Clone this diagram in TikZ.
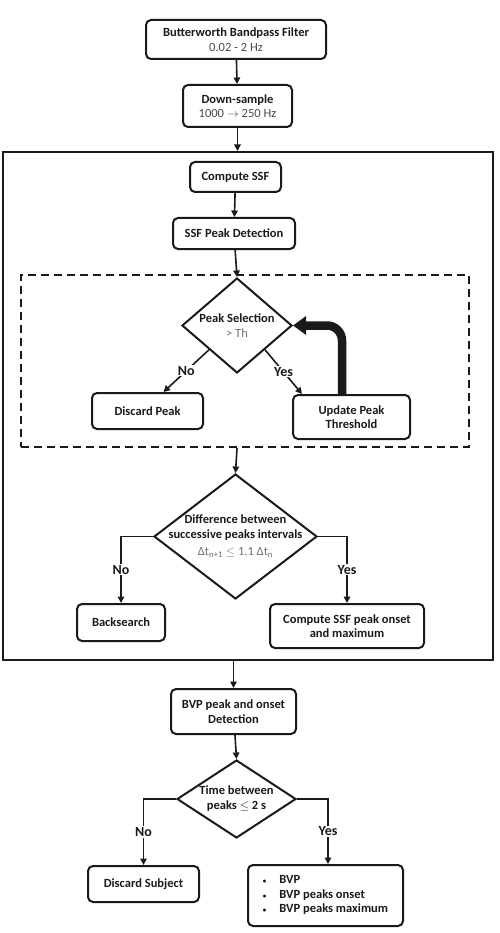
\documentclass[tikz,border=0pt]{standalone}
\usepackage{fontspec}
\setmainfont{Carlito}
\usetikzlibrary{shapes.geometric,arrows.meta}
\definecolor{ink}{HTML}{1A1A1A}
\definecolor{subt}{HTML}{4A4A4A}
\definecolor{grey}{HTML}{707070}
\begin{document}
\begin{tikzpicture}[x=1pt,y=-1pt,
    blk/.style={draw=ink,line width=2pt,rounded corners=5pt,align=center,
      font=\fontsize{12.5}{14.5}\selectfont\bfseries,text=ink,inner sep=2pt},
    dia/.style={draw=ink,line width=2pt,diamond,inner sep=0pt},
    dtxt/.style={align=center,font=\fontsize{12.5}{15}\selectfont\bfseries,text=ink},
    frm/.style={draw=ink,line width=2pt,inner sep=0pt},
    arr/.style={draw=ink,line width=1.6pt,-{Triangle[length=6.5pt,width=6.5pt]}},
    lbl/.style={fill=white,font=\fontsize{14}{14}\selectfont\bfseries,text=ink,inner sep=1pt}]
  \useasboundingbox (0,0) rectangle (499,933);
  \node[frm,minimum width=490pt,minimum height=508pt] (outer) at (248,406) {};
  \node[frm,dashed,dash pattern=on 8pt off 5pt,minimum width=448pt,minimum height=172pt] (sel) at (245,361) {};
  \node[blk,minimum width=180pt,minimum height=39pt] (bw) at (236,39.5)
    {Butterworth Bandpass Filter\\{\mdseries\color{subt}0.02 - 2 Hz}};
  \node[blk,minimum width=109pt,minimum height=42pt] (ds) at (237.5,106)
    {Down-sample\\{\mdseries\color{subt}1000 $\rightarrow$ 250 Hz}};
  \node[blk,minimum width=91pt,minimum height=30pt] (ssf) at (235.5,177) {Compute SSF};
  \node[blk,minimum width=122pt,minimum height=31pt] (pk) at (234,233.5) {SSF Peak Detection};
  \node[dia,minimum width=110pt,minimum height=95pt,
    label={[dtxt]center:Peak Selection\\{\mdseries\color{grey}> Th}}] (d1) at (237,325.5) {};
  \node[blk,minimum width=111pt,minimum height=36pt] (disc) at (147.5,411) {Discard Peak};
  \node[blk,minimum width=117pt,minimum height=44pt] (upd) at (351.5,417) {Update Peak\\Threshold};
  \node[dia,minimum width=163pt,minimum height=125pt,
    label={[dtxt]center:Difference between\\successive peaks intervals\\[2pt]
      {\mdseries\color{grey}Δt\textsubscript{n+1} $\leq$ 1.1 Δt\textsubscript{n}}}] (d2) at (235.5,536.5) {};
  \node[blk,minimum width=88pt,minimum height=37pt] (bs) at (121,622.5) {Backsearch};
  \node[blk,minimum width=154pt,minimum height=44pt] (onset) at (347,626) {Compute SSF peak onset\\and maximum};
  \node[blk,minimum width=125pt,minimum height=45pt] (bvp) at (233.5,711.5) {BVP peak and onset\\Detection};
  \node[dia,minimum width=119pt,minimum height=78pt,
    label={[dtxt]center:Time between\\peaks $\leq$ 2 s}] (d3) at (236.5,799) {};
  \node[blk,minimum width=111pt,minimum height=36pt] (subj) at (143.5,884) {Discard Subject};
  \node[blk,minimum width=155pt,minimum height=61pt] (out) at (325.5,895.5)
    {\begin{tabular}{@{}l@{\hspace{13pt}}l@{}}{\scriptsize\textbullet} & BVP\\ {\scriptsize\textbullet} & BVP peaks onset\\ {\scriptsize\textbullet} & BVP peaks maximum\end{tabular}};
  \begin{scope}[arr]
    \draw (bw) -- (ds);
    \draw (ds) -- (ds |- outer.north);
    \draw (ssf) -- (pk);
    \draw (pk) -- (d1.north);
    \draw (d1.south west) -- node[lbl] {No} ([xshift=16pt]disc.north);
    \draw (d1.south east) -- node[lbl] {Yes} ([xshift=10pt]upd.north west);
    \draw (d1 |- sel.south) -- (d2.north);
    \draw (d2.west) -| node[lbl,pos=.75] {No} (bs.north);
    \draw (d2.east) -| node[lbl,pos=.75] {Yes} (onset.north);
    \draw (bvp |- outer.south) -- (bvp);
    \draw (bvp) -- (d3.north);
    \draw (d3.west) -| node[lbl,pos=.75] {No} (subj.north);
    \draw (d3.east) -| node[lbl,pos=.75] {Yes} ([xshift=2.5pt]out.north);
  \end{scope}
  \draw[draw=ink,line width=8.5pt,rounded corners=15pt,-{Triangle[length=13pt,width=18pt]}]
    ([xshift=-9.5pt]upd.north) |- (d1.east);
\end{tikzpicture}
\end{document}
